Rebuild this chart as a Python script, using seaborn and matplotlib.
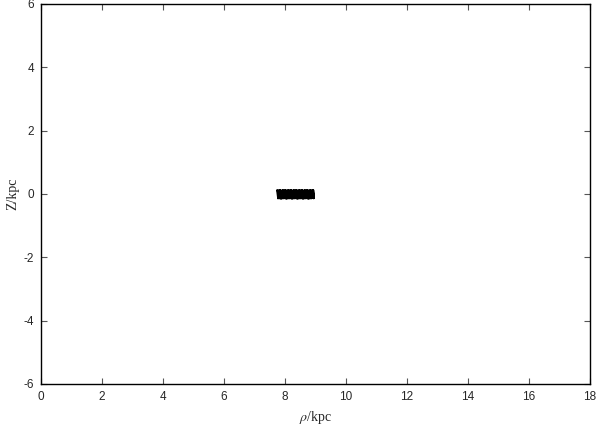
import numpy as np
import pandas as pd
import matplotlib
matplotlib.use('Agg')
import matplotlib.pyplot as plt
import seaborn as sns

rho = [7.74, 7.78, 7.83, 7.86, 7.92, 7.95, 8.01, 8.04, 8.10, 8.13, 8.19, 8.22,
       8.28, 8.31, 8.37, 8.40, 8.46, 8.49, 8.55, 8.58, 8.64, 8.67, 8.73, 8.76,
       8.82, 8.85, 8.91, 8.95, 8.93, 8.88, 8.84, 8.79, 8.75, 8.70, 8.66, 8.61,
       8.57, 8.52, 8.48, 8.43, 8.39, 8.34, 8.30, 8.25, 8.21, 8.16, 8.12, 8.07,
       8.03, 7.98, 7.94, 7.89, 7.85, 7.80, 7.76]
z = [0.14, -0.16, 0.15, -0.17, 0.14, -0.16, 0.15, -0.17, 0.14, -0.16, 0.15, -0.17,
     0.14, -0.16, 0.15, -0.17, 0.14, -0.16, 0.15, -0.17, 0.14, -0.16, 0.15, -0.17,
     0.14, -0.16, 0.15, -0.16, 0.13, -0.15, 0.14, -0.16, 0.13, -0.15, 0.14, -0.16,
     0.13, -0.15, 0.14, -0.16, 0.13, -0.15, 0.14, -0.16, 0.13, -0.15, 0.14, -0.16,
     0.13, -0.15, 0.14, -0.16, 0.13, -0.15, 0.14]

xticks = [0, 2, 4, 6, 8, 10, 12, 14, 16, 18]
yticks = [-6, -4, -2, 0, 2, 4, 6]

df = pd.DataFrame({'rho': rho, 'z': z})

sns.set_style('ticks')
plt.rcParams['font.family'] = ['Liberation Sans', 'DejaVu Sans']
plt.rcParams['mathtext.fontset'] = 'stix'

fig = plt.figure(figsize=(5.96, 4.24), dpi=100)
ax = fig.add_axes([41/596, 40/424, 549/596, 380/424])

sns.lineplot(data=df, x='rho', y='z', sort=False, color='black', lw=1.5, ax=ax)
ax.lines[0].set_solid_joinstyle('bevel')
ax.lines[0].set_solid_capstyle('butt')

ax.set_xlim(0, 18)
ax.set_ylim(-6, 6)
ax.set_xticks(xticks)
ax.set_yticks(yticks)
ax.set_xticklabels([str(t) for t in xticks])
ax.set_yticklabels([str(t) for t in yticks])
ax.tick_params(direction='in', length=4, width=0.8, top=True, right=True,
               labelsize=8.5, color='#555555', pad=5)
for s in ax.spines.values():
    s.set_visible(True)
    s.set_linewidth(1.0)
    s.set_color('black')

ax.set_xlabel(r'$\rho$/kpc', family='Liberation Serif', fontsize=10, labelpad=4)
ax.set_ylabel('Z/kpc', family='Liberation Serif', fontsize=10, labelpad=3)

fig.savefig('out.png', dpi=100)
